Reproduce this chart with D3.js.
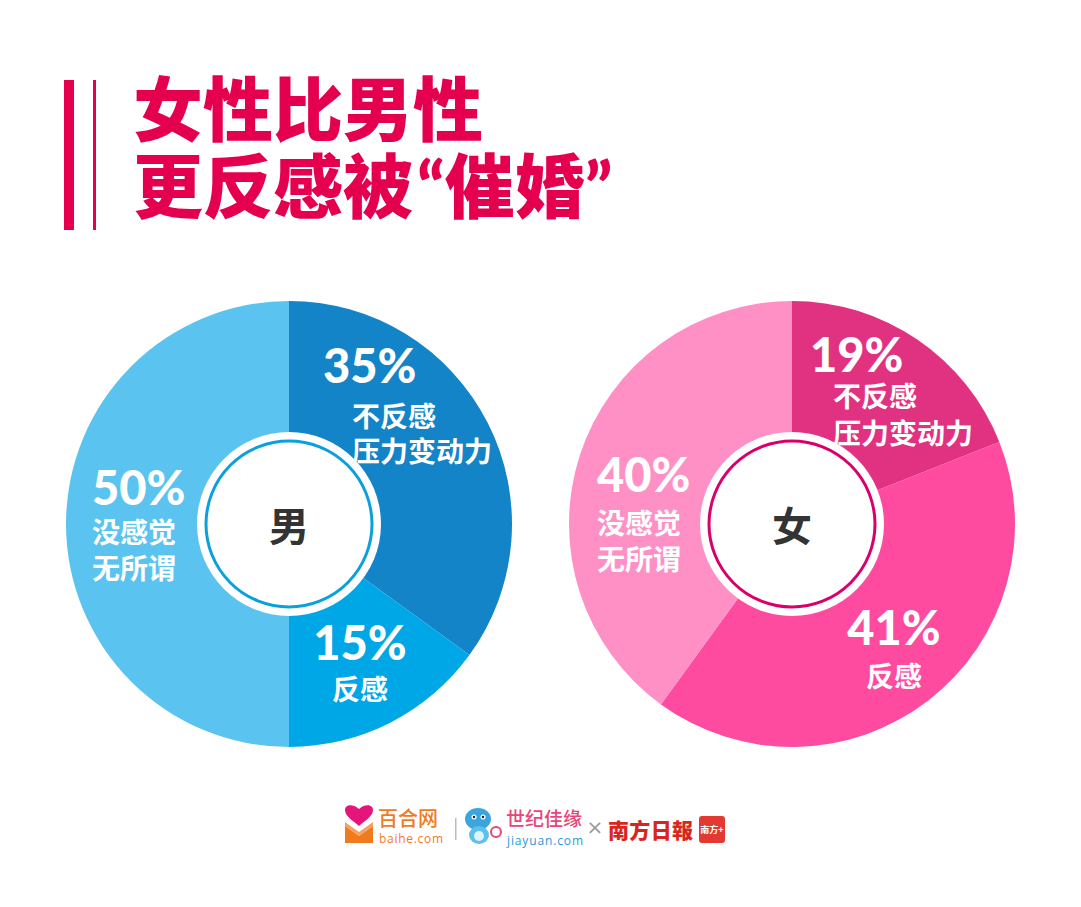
<!DOCTYPE html>
<html><head><meta charset="utf-8">
<script src="https://cdn.jsdelivr.net/npm/d3@7"></script>
<style>
html,body{margin:0;padding:0;background:#fff;}
svg{display:block;}
</style></head>
<body>
<svg id="chart" width="1081" height="907"></svg>
<script>
// ---- data ----
const titleLine1 = ["女性比男性"];
const titleLine2 = ["更反感被", "“", "催婚", "”"];
const maleCategories = ["不反感 压力变动力", "反感", "没感觉 无所谓"];
const maleValues = [35, 15, 50];
const maleLabels = [["不反感", "压力变动力"], ["反感"], ["没感觉", "无所谓"]];
const femaleCategories = ["不反感 压力变动力", "反感", "没感觉 无所谓"];
const femaleValues = [19, 41, 40];
const femaleLabels = [["不反感", "压力变动力"], ["反感"], ["没感觉", "无所谓"]];
const centerLabels = ["男", "女"];

// ---- styles / layout ----
const maleColors = ["#1384c8", "#00a7e6", "#5bc3f0"];
const femaleColors = ["#e13282", "#fe4a9f", "#fe90c6"];
const ringColors = ["#0aa0dd", "#d9006c"];
const titleColor = "#e4004f";
const R = 223;
const pies = [
  {cx: 289, cy: 524, values: maleValues, labels: maleLabels, colors: maleColors, ring: ringColors[0], center: centerLabels[0],
   lab: [
     {px: 34, py: -141, anchor: "start", lx: 63, ly: [-109, -74]},
     {px: 71, py: 136, anchor: "middle", lx: 71, ly: [164]},
     {px: -197, py: -19, anchor: "start", lx: -197, ly: [7, 43]}
   ]},
  {cx: 792, cy: 524, values: femaleValues, labels: femaleLabels, colors: femaleColors, ring: ringColors[1], center: centerLabels[1],
   lab: [
     {px: 18, py: -152, anchor: "start", lx: 41, ly: [-129, -92]},
     {px: 102, py: 121, anchor: "middle", lx: 102, ly: [151]},
     {px: -195, py: -32, anchor: "start", lx: -195, ly: [-2, 34]}
   ]}
];

const svg = d3.select("#chart");
svg.append("rect").attr("width", 1081).attr("height", 907).attr("fill", "#fff");

// title bars
svg.append("rect").attr("x", 64).attr("y", 80).attr("width", 10).attr("height", 150).attr("fill", titleColor);
svg.append("rect").attr("x", 93).attr("y", 80).attr("width", 3).attr("height", 150).attr("fill", titleColor);
const cjk = "'Noto Sans CJK SC', sans-serif";
function titleLine(parts, y) {
  const t = svg.append("text").attr("x", 133).attr("y", y)
    .attr("font-weight", 900).attr("font-size", 70).attr("fill", titleColor);
  parts.forEach(p => {
    const isQuote = p === "“" || p === "”";
    t.append("tspan").attr("font-family", isQuote ? "Lato, sans-serif" : cjk)
      .attr("dx", p === "“" ? 4 : 0).text(p);
  });
}
titleLine(titleLine1, 136);
titleLine(titleLine2, 213);

const pieGen = d3.pie().sort(null).value(d => d);
const arcGen = d3.arc().innerRadius(0).outerRadius(R);

pies.forEach(p => {
  const g = svg.append("g").attr("transform", `translate(${p.cx},${p.cy})`);
  const arcs = pieGen(p.values);
  g.selectAll("path.slice").data(arcs).join("path")
    .attr("class", "slice").attr("d", arcGen)
    .attr("fill", (d, i) => p.colors[i]);
  g.append("circle").attr("r", 92).attr("fill", "#fff");
  g.append("circle").attr("r", 83).attr("fill", "#fff").attr("stroke", p.ring).attr("stroke-width", 3);
  g.append("text").attr("x", 0).attr("y", 0)
    .attr("text-anchor", "middle").attr("dominant-baseline", "central")
    .attr("font-family", cjk).attr("font-weight", 700)
    .attr("font-size", 40).attr("fill", "#333").text(p.center);
  arcs.forEach((a, i) => {
    const L = p.lab[i];
    g.append("text").attr("x", L.px).attr("y", L.py)
      .attr("text-anchor", L.anchor)
      .attr("font-family", "Lato, sans-serif").attr("font-weight", 900)
      .attr("font-size", 47).attr("fill", "#fff")
      .text(a.data + "%");
    p.labels[i].forEach((ln, j) => {
      g.append("text").attr("x", L.lx).attr("y", L.ly[j])
        .attr("text-anchor", L.anchor).attr("dominant-baseline", "central")
        .attr("font-family", cjk).attr("font-weight", 700)
        .attr("font-size", 28).attr("fill", "#fff").text(ln);
    });
  });
});

// ---- footer logos ----
const f = svg.append("g");
// baihe heart + envelope
f.append("path").attr("d", "M359,826 C352,820 345,816 345,810 C345,805 352,803 359,809 C366,803 373,805 373,810 C373,816 366,820 359,826 Z").attr("fill", "#e6157b");
f.append("path").attr("d", "M345,826 L359,836 L373,826 L373,843 L345,843 Z").attr("fill", "#f07b1f");
f.append("path").attr("d", "M345,822 L359,832 L373,822 L373,826 L359,836 L345,826 Z").attr("fill", "#f07b1f").attr("opacity", 0.7);
f.append("text").attr("x", 378).attr("y", 826).attr("font-family", cjk)
  .attr("font-weight", 500).attr("font-size", 20).attr("fill", "#f07b1f").text("百合网");
f.append("text").attr("x", 379).attr("y", 843).attr("font-family", "'Open Sans', sans-serif")
  .attr("font-size", 12).attr("fill", "#f07b1f").attr("textLength", 64).text("baihe.com");
f.append("rect").attr("x", 455).attr("y", 818).attr("width", 1.5).attr("height", 22).attr("fill", "#bbb");
// jiayuan bird
f.append("ellipse").attr("cx", 478).attr("cy", 819).attr("rx", 13).attr("ry", 11).attr("fill", "#3aa6dd");
f.append("ellipse").attr("cx", 479).attr("cy", 835).attr("rx", 10).attr("ry", 9).attr("fill", "#5fc0ec");
f.append("ellipse").attr("cx", 479).attr("cy", 836).attr("rx", 5).attr("ry", 5).attr("fill", "#dff3fc");
f.append("circle").attr("cx", 474).attr("cy", 817).attr("r", 2.5).attr("fill", "#fff");
f.append("circle").attr("cx", 483).attr("cy", 817).attr("r", 2.5).attr("fill", "#fff");
f.append("circle").attr("cx", 474).attr("cy", 817).attr("r", 1.2).attr("fill", "#123");
f.append("circle").attr("cx", 483).attr("cy", 817).attr("r", 1.2).attr("fill", "#123");
f.append("circle").attr("cx", 496).attr("cy", 832).attr("r", 5).attr("fill", "none").attr("stroke", "#e8457a").attr("stroke-width", 2);
f.append("text").attr("x", 506).attr("y", 826).attr("font-family", cjk)
  .attr("font-weight", 500).attr("font-size", 19).attr("fill", "#e8457a").text("世纪佳缘");
f.append("text").attr("x", 507).attr("y", 845).attr("font-family", "'Open Sans', sans-serif")
  .attr("font-size", 12).attr("fill", "#2a9ad6").attr("textLength", 76).text("jiayuan.com");
f.append("text").attr("x", 595).attr("y", 834).attr("text-anchor", "middle").attr("font-family", "'DejaVu Sans', sans-serif")
  .attr("font-size", 20).attr("fill", "#999").text("×");
f.append("text").attr("x", 608).attr("y", 838).attr("font-family", cjk)
  .attr("font-weight", 900).attr("font-size", 21).attr("fill", "#d7261e").attr("textLength", 85).text("南方日報");
f.append("rect").attr("x", 699).attr("y", 816).attr("width", 26).attr("height", 27).attr("rx", 3).attr("fill", "#e23a33");
f.append("text").attr("x", 712).attr("y", 833).attr("text-anchor", "middle").attr("font-family", cjk)
  .attr("font-weight", 700).attr("font-size", 9).attr("fill", "#fff").text("南方+");
</script>
</body></html>
